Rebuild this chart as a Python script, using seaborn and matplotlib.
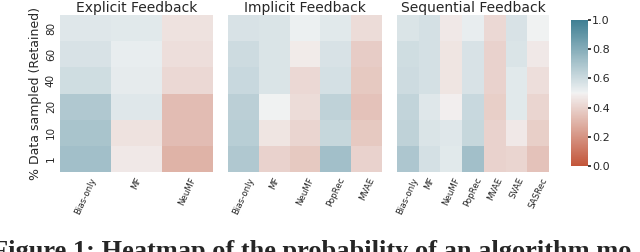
import matplotlib
matplotlib.use("Agg")
import matplotlib.pyplot as plt
import numpy as np
import pandas as pd
import seaborn as sns

rows = ["80", "60", "40", "20", "10", "1"]

explicit_algos = ["Bias-only", "MF", "NeuMF"]
explicit_vals = [
    [0.55, 0.54, 0.45],
    [0.57, 0.52, 0.44],
    [0.59, 0.53, 0.42],
    [0.68, 0.55, 0.33],
    [0.70, 0.45, 0.33],
    [0.72, 0.47, 0.30],
]

implicit_algos = ["Bias-only", "MF", "NeuMF", "PopRec", "MVAE"]
implicit_vals = [
    [0.57, 0.56, 0.51, 0.54, 0.43],
    [0.60, 0.56, 0.48, 0.57, 0.38],
    [0.61, 0.56, 0.42, 0.58, 0.37],
    [0.65, 0.50, 0.43, 0.64, 0.35],
    [0.66, 0.46, 0.41, 0.62, 0.37],
    [0.68, 0.40, 0.37, 0.72, 0.40],
]

sequential_algos = ["Bias-only", "MF", "NeuMF", "PopRec", "MVAE", "SVAE", "SASRec"]
sequential_vals = [
    [0.56, 0.58, 0.47, 0.52, 0.42, 0.57, 0.50],
    [0.59, 0.58, 0.46, 0.57, 0.40, 0.56, 0.47],
    [0.60, 0.58, 0.46, 0.57, 0.40, 0.54, 0.44],
    [0.63, 0.55, 0.49, 0.61, 0.39, 0.54, 0.41],
    [0.64, 0.56, 0.55, 0.62, 0.40, 0.47, 0.39],
    [0.69, 0.58, 0.54, 0.72, 0.40, 0.41, 0.35],
]

panels = [
    ("Explicit Feedback", explicit_algos, explicit_vals),
    ("Implicit Feedback", implicit_algos, implicit_vals),
    ("Sequential Feedback", sequential_algos, sequential_vals),
]

sns.set_theme(style="white")
plt.rcParams["font.family"] = ["DejaVu Sans"]

cmap = sns.diverging_palette(20, 220, as_cmap=True)

W, H = 640, 252
fig = plt.figure(figsize=(6.4, 2.52), dpi=100)

lefts = [60, 228, 397]
widths = [153, 154, 152]
top, bottom = 15, 172

cax = fig.add_axes([571 / W, 1 - 166 / H, 17 / W, (166 - 20) / H])

for i, (title, algos, vals) in enumerate(panels):
    ax = fig.add_axes([lefts[i] / W, 1 - bottom / H, widths[i] / W, (bottom - top) / H])
    df = pd.DataFrame(vals, index=rows, columns=algos)
    sns.heatmap(df, ax=ax, cmap=cmap, vmin=0, vmax=1,
                cbar=(i == 2), cbar_ax=cax if i == 2 else None)
    ax.set_title(title, fontsize=10, pad=2)
    ax.set_xticklabels(algos, rotation=65, fontsize=6.2)
    ax.tick_params(axis="both", length=2, width=0.6, pad=1)
    if i == 0:
        ax.set_yticklabels(rows, rotation=90, va="center", fontsize=7.5)
        ax.set_ylabel("% Data sampled (Retained)", fontsize=9, labelpad=3)
    else:
        ax.set_yticklabels([])
        ax.set_ylabel("")

cax.tick_params(labelsize=8, length=2, pad=1)
cax.set_yticks([0, 0.2, 0.4, 0.6, 0.8, 1.0])
cax.set_yticklabels(["0.0", "0.2", "0.4", "0.6", "0.8", "1.0"])

# caption of the paper figure, cut off by the crop
fig.text(-0.012, -0.022, "Figure 1: Heatmap of the probability of an algorithm mo",
         fontsize=19, fontweight="bold", family=["Liberation Serif", "DejaVu Serif"],
         va="baseline", ha="left")

fig.savefig("out.png", dpi=100, facecolor="white")
